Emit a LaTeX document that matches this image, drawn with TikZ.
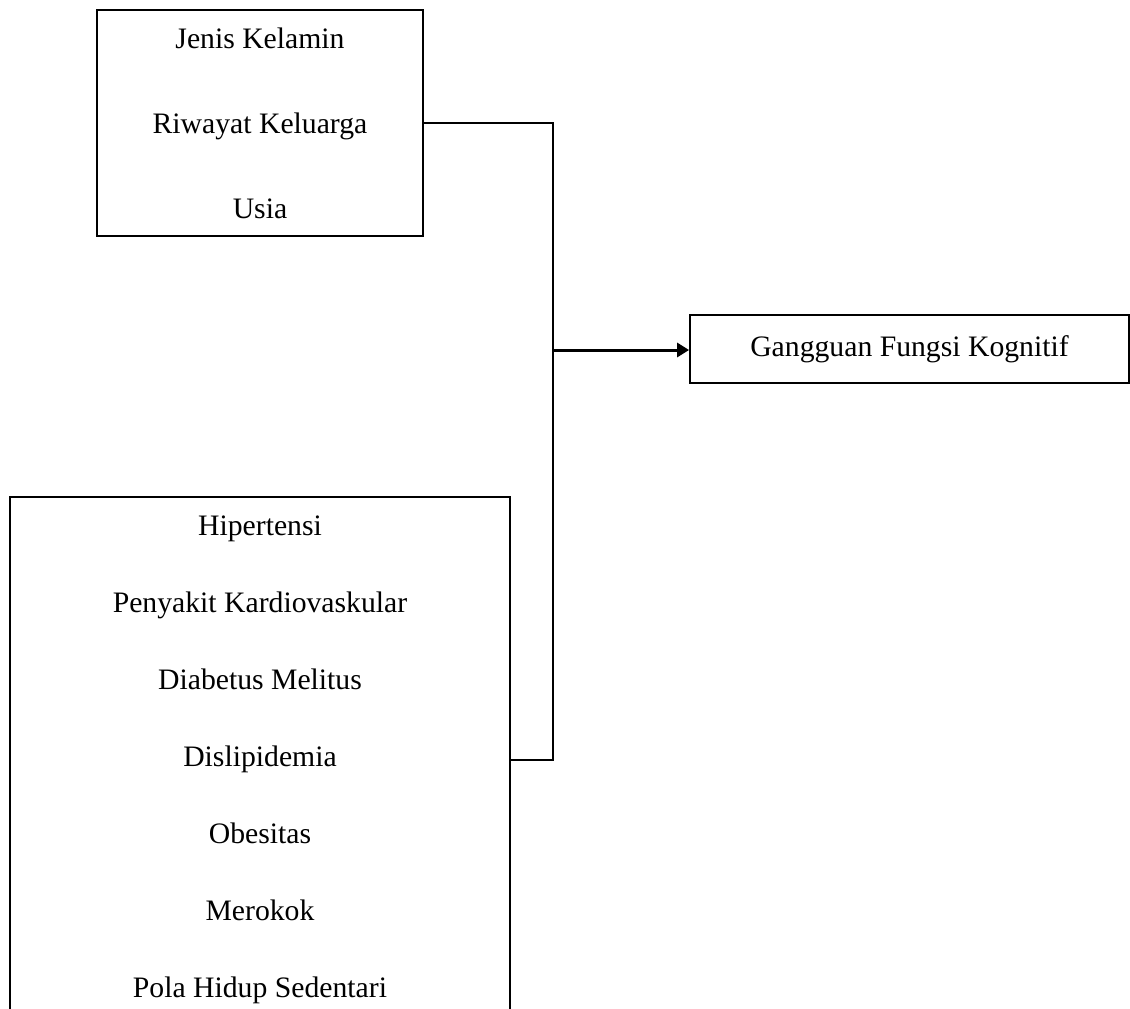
\documentclass[tikz,border=0pt]{standalone}
\usepackage{fontspec}
\setmainfont{Liberation Serif}
\usetikzlibrary{arrows.meta}
\begin{document}
\begin{tikzpicture}[x=1pt,y=-1pt]
\tikzstyle{every node}+=[inner sep=0pt, align=center, font=\fontsize{29.7}{85}\selectfont]
\tikzstyle{box}=[draw, line width=1.8pt]
\tikzstyle{link}=[line width=1.8pt]
\useasboundingbox (0,0) rectangle (1130,1009);
\coordinate (edge) at (0,1009);
\coordinate (bus) at (553,350);
\node [box, minimum width=326, minimum height=226] (risk) at (260,123) {Jenis Kelamin\\Riwayat Keluarga\\Usia};
\node [box, minimum width=439, minimum height=68] (goal) at (909.5,349) {Gangguan Fungsi Kognitif};
\node [minimum width=500, minimum height=526, font=\fontsize{29.7}{77}\selectfont] (clin) at (260,760) {Hipertensi\\Penyakit Kardiovaskular\\Diabetus Melitus\\Dislipidemia\\Obesitas\\Merokok\\Pola Hidup Sedentari};
\draw [link] (clin.north west |- edge) -- (clin.north west) -- (clin.north east) -- (clin.north east |- edge);
\draw [link] (risk.east) -| (bus) |- (clin.east);
\draw [link, line width=3pt, -{Triangle[length=12pt,width=14pt]}] (bus) -- (goal.west |- bus);
\end{tikzpicture}
\end{document}
